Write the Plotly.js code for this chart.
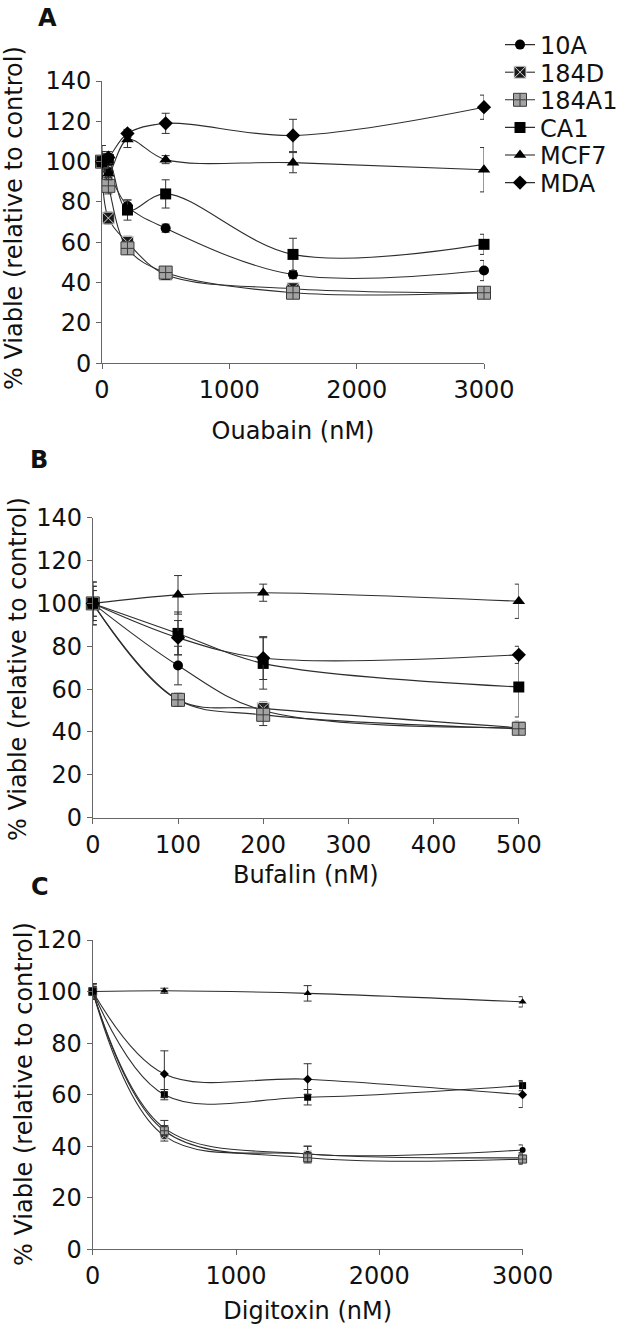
<!DOCTYPE html>
<html>
<head>
<meta charset="utf-8">
<script src="https://cdn.plot.ly/plotly-3.0.1.min.js"></script>
<style>html,body{margin:0;padding:0;background:#fff;}#chart{width:624px;height:1332px;}</style>
</head>
<body>
<div id="chart"></div>
<script>
// ---- Data ----
const seriesNames = ['10A', '184D', '184A1', 'CA1', 'MCF7', 'MDA'];

// Panel A: Ouabain
const ouabainX = [0, 50, 200, 500, 1500, 3000];
const ouabain10A   = [100, 95, 78, 67, 44, 46];
const ouabain184D  = [100, 72, 60, 44, 37, 35];
const ouabain184A1 = [100, 88, 57, 45, 35, 35];
const ouabainCA1   = [100, 101, 76, 84, 54, 59];
const ouabainMCF7  = [100, 94, 111, 101, 99.5, 96];
const ouabainMDA   = [100, 102, 114, 119, 113, 127];
const ouabainErr10A   = [3, 3, 3, 2, 2, 5];
const ouabainErr184D  = [3, 3, 3, 2, 2, 2];
const ouabainErr184A1 = [4, 4, 3, 2, 2, 2];
const ouabainErrCA1   = [5, 3, 5, 7, 8, 5];
const ouabainErrMCF7  = [8, 3, 4, 2, 5, 11];
const ouabainErrMDA   = [5, 3, 2, 5, 8, 6];

// Panel B: Bufalin
const bufalinX = [0, 100, 200, 500];
const bufalin10A   = [100, 71, 50, 42];
const bufalin184D  = [100, 55, 51, 42];
const bufalin184A1 = [100, 55, 48, 41.5];
const bufalinCA1   = [100, 86, 72, 61];
const bufalinMCF7  = [100, 104, 105, 101];
const bufalinMDA   = [100, 84, 74.5, 76];
const bufalinErr10A   = [8, 9, 3, 3];
const bufalinErr184D  = [6, 3, 3, 2];
const bufalinErr184A1 = [6, 3, 5, 2];
const bufalinErrCA1   = [10, 10, 12, 14];
const bufalinErrMCF7  = [10, 9, 4, 8];
const bufalinErrMDA   = [8, 8, 10, 4];

// Panel C: Digitoxin
const digitoxinX = [0, 500, 1500, 3000];
const digitoxin10A   = [100, 47, 37, 38.5];
const digitoxin184D  = [100, 44, 37, 35.5];
const digitoxin184A1 = [100, 46, 35.5, 35];
const digitoxinCA1   = [100, 60, 59, 63.5];
const digitoxinMCF7  = [100, 100.3, 99.3, 96];
const digitoxinMDA   = [100, 68, 66, 60];
const digitoxinErr10A   = [2, 3, 3, 2];
const digitoxinErr184D  = [2, 2, 3, 2];
const digitoxinErr184A1 = [3, 2, 2, 2];
const digitoxinErrCA1   = [3, 2, 3, 2];
const digitoxinErrMCF7  = [3, 1, 3, 2];
const digitoxinErrMDA   = [3, 9, 6, 5];

const panelLetters = ['A', 'B', 'C'];
const xTitles = ['Ouabain (nM)', 'Bufalin (nM)', 'Digitoxin (nM)'];
const yTitle = '% Viable (relative to control)';

// ---- Styles ----
const FONT = 'DejaVu Sans, Arial, sans-serif';
const LINE = '#2e2e2e';
const markerStyles = {
  '10A':   {symbol: 'circle', color: '#000', line: {color: '#000', width: 0}},
  '184D':  {symbol: 'square-x', color: '#1a1a1a', line: {color: '#d8d8d8', width: 1}},
  '184A1': {symbol: 'square-cross', color: '#a3a3a3', line: {color: '#3a3a3a', width: 1}},
  'CA1':   {symbol: 'square', color: '#000', line: {color: '#000', width: 0}},
  'MCF7':  {symbol: 'triangle-up', color: '#000', line: {color: '#000', width: 0}},
  'MDA':   {symbol: 'diamond', color: '#000', line: {color: '#000', width: 0}}
};
const sizesBig = {'10A': 10, '184D': 12, '184A1': 13, 'CA1': 11, 'MCF7': 11, 'MDA': 11};
const sizesSmall = {'10A': 6, '184D': 7, '184A1': 8, 'CA1': 7, 'MCF7': 7, 'MDA': 7};
const legendIds = ['legend', 'legend2', 'legend3', 'legend4', 'legend5', 'legend6'];

const panels = [
  {x: ouabainX, ys: [ouabain10A, ouabain184D, ouabain184A1, ouabainCA1, ouabainMCF7, ouabainMDA],
   errs: [ouabainErr10A, ouabainErr184D, ouabainErr184A1, ouabainErrCA1, ouabainErrMCF7, ouabainErrMDA],
   xa: 'x', ya: 'y', sizes: sizesBig, legend: true},
  {x: bufalinX, ys: [bufalin10A, bufalin184D, bufalin184A1, bufalinCA1, bufalinMCF7, bufalinMDA],
   errs: [bufalinErr10A, bufalinErr184D, bufalinErr184A1, bufalinErrCA1, bufalinErrMCF7, bufalinErrMDA],
   xa: 'x2', ya: 'y2', sizes: sizesBig, legend: false},
  {x: digitoxinX, ys: [digitoxin10A, digitoxin184D, digitoxin184A1, digitoxinCA1, digitoxinMCF7, digitoxinMDA],
   errs: [digitoxinErr10A, digitoxinErr184D, digitoxinErr184A1, digitoxinErrCA1, digitoxinErrMCF7, digitoxinErrMDA],
   xa: 'x3', ya: 'y3', sizes: sizesSmall, legend: false}
];

const traces = [];
panels.forEach(p => {
  seriesNames.forEach((name, i) => {
    const ms = markerStyles[name];
    traces.push({
      type: 'scatter', mode: 'lines+markers',
      x: p.x, y: p.ys[i], name: name,
      xaxis: p.xa, yaxis: p.ya,
      showlegend: p.legend, legend: legendIds[i], legendgroup: name,
      cliponaxis: false,
      line: {color: LINE, width: 1.1, shape: 'spline', smoothing: 1},
      marker: {symbol: ms.symbol, color: ms.color, size: p.sizes[name], line: ms.line},
      error_y: {type: 'data', array: p.errs[i], visible: true, color: '#333', thickness: 1, width: 4}
    });
  });
});

const W = 624, H = 1332;
function dx(a, b) { return [a / W, b / W]; }
function dy(top, bottom) { return [1 - bottom / H, 1 - top / H]; }

const axisCommon = {
  showgrid: false, zeroline: false, showline: true, linecolor: '#666', linewidth: 1,
  ticks: 'outside', ticklen: 5, tickcolor: '#666', tickwidth: 1,
  tickfont: {family: FONT, size: 24, color: '#111'}, automargin: false
};
const titleFont = {family: FONT, size: 24, color: '#111'};
const legendFont = {family: FONT, size: 24, color: '#111'};
const legendRowsY = [45, 72.6, 100.2, 127.8, 155.4, 183];

// positions (px) of letters and rotated y titles
const letterPos = [[47, 18.5], [38.5, 460], [40, 887]];
const yTitlePos = [[14, 218], [18, 669], [24, 1094]];

const annotations = [];
panelLetters.forEach((t, i) => {
  annotations.push({text: '<b>' + t + '</b>', x: letterPos[i][0] / W, y: 1 - letterPos[i][1] / H,
    xref: 'paper', yref: 'paper', showarrow: false, font: titleFont, xanchor: 'center', yanchor: 'middle'});
  annotations.push({text: yTitle, x: yTitlePos[i][0] / W, y: 1 - yTitlePos[i][1] / H, textangle: -90,
    xref: 'paper', yref: 'paper', showarrow: false, font: titleFont, xanchor: 'center', yanchor: 'middle'});
});

const layout = {
  width: W, height: H,
  margin: {l: 0, r: 0, t: 0, b: 0},
  paper_bgcolor: '#fff', plot_bgcolor: '#fff',
  font: {family: FONT, color: '#111'},
  showlegend: true,
  xaxis: Object.assign({}, axisCommon, {domain: dx(102, 484), range: [0, 3000], dtick: 1000, anchor: 'y',
    title: {text: xTitles[0], font: titleFont, standoff: 19}}),
  yaxis: Object.assign({}, axisCommon, {domain: dy(81, 363.3), range: [0, 140], dtick: 20, anchor: 'x'}),
  xaxis2: Object.assign({}, axisCommon, {domain: dx(92.8, 518.8), range: [0, 500], dtick: 100, anchor: 'y2',
    title: {text: xTitles[1], font: titleFont, standoff: 8}}),
  yaxis2: Object.assign({}, axisCommon, {domain: dy(517.7, 817.7), range: [0, 140], dtick: 20, anchor: 'x2'}),
  xaxis3: Object.assign({}, axisCommon, {domain: dx(92.7, 522.6), range: [0, 3000], dtick: 1000, anchor: 'y3',
    title: {text: xTitles[2], font: titleFont, standoff: 13}}),
  yaxis3: Object.assign({}, axisCommon, {domain: dy(940, 1249.3), range: [0, 120], dtick: 20, anchor: 'x3'}),
  annotations: annotations
};
legendIds.forEach((id, i) => {
  layout[id] = {x: 500 / W, y: 1 - legendRowsY[i] / H, xanchor: 'left', yanchor: 'middle',
    font: legendFont, bgcolor: 'rgba(0,0,0,0)', borderwidth: 0, itemwidth: 30, tracegroupgap: 0};
});

Plotly.newPlot('chart', traces, layout, {staticPlot: true, displayModeBar: false});
</script>
</body>
</html>
